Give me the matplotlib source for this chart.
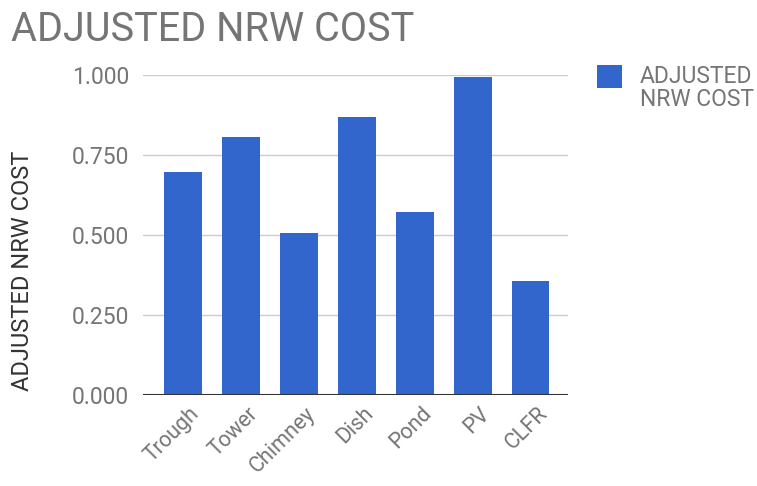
import matplotlib
matplotlib.use("Agg")
import matplotlib.pyplot as plt
import matplotlib.transforms as mtransforms
from matplotlib.patches import Rectangle

plt.rcParams['font.family'] = ['Roboto', 'DejaVu Sans']

categories = ["Trough", "Tower", "Chimney", "Dish", "Pond", "PV", "CLFR"]
cost = [0.698, 0.806, 0.506, 0.869, 0.573, 0.996, 0.357]
yticks = [0.0, 0.25, 0.5, 0.75, 1.0]
series_name = "ADJUSTED NRW COST"
legend_label = "ADJUSTED\nNRW COST"

grey = "#757575"
blue = "#3366cc"

fig = plt.figure(figsize=(7.57, 4.86), dpi=100)
ax = fig.add_axes([0.189, 0.187, 0.561, 0.658])

x = range(len(categories))
ax.bar(x, cost, width=0.65, color=blue, zorder=3)

ax.set_ylim(0, 1)
ax.set_xlim(-0.69, 6.64)
ax.set_yticks(yticks)
ax.set_yticklabels([f"{v:.3f}" for v in yticks], color=grey, fontsize=16.5)
ax.grid(axis="y", color="#cccccc", linewidth=1, zorder=0)
ax.axhline(0, color="#333333", linewidth=1.5, zorder=4)
for s in ax.spines.values():
    s.set_visible(False)
ax.tick_params(axis="both", length=0)
ax.tick_params(axis="y", pad=10)

ax.set_xticks(list(x))
ax.set_xticklabels(categories, rotation=45, ha="right", rotation_mode="anchor",
                   color=grey, fontsize=15.5)
shift = mtransforms.ScaledTranslation(6 / 100, -3 / 100, fig.dpi_scale_trans)
for lab in ax.get_xticklabels():
    lab.set_transform(lab.get_transform() + shift)

ax.set_ylabel(series_name, fontsize=17, color="#333333")
ax.yaxis.set_label_coords(-0.256, 0.388)

fig.text(0.014, 0.979, series_name, fontsize=28.5, color=grey, va="top", ha="left")

# legend drawn by hand so the swatch lines up with the first text line
fig.patches.append(Rectangle((0.789, 0.819), 0.033, 0.047, transform=fig.transFigure,
                             facecolor=blue, edgecolor="none"))
fig.text(0.845, 0.866, legend_label, fontsize=16.5, color=grey, va="top", ha="left",
         linespacing=1.0)

fig.savefig("out.png", dpi=100)
